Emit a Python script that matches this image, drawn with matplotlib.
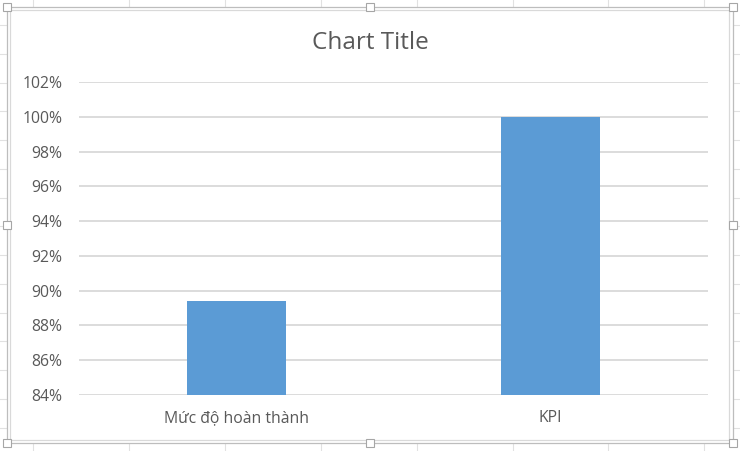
import matplotlib
matplotlib.use("Agg")
import matplotlib.pyplot as plt
from matplotlib.patches import Rectangle
from matplotlib.ticker import FuncFormatter, MultipleLocator

categories = ["Mức độ hoàn thành", "KPI"]
values = [89.4, 100.0]
y_min, y_max, y_step = 84, 102, 2
title = "Chart Title"

W, H = 740, 451
fig = plt.figure(figsize=(W / 100, H / 100), dpi=100)
fig.patch.set_facecolor("white")

# background overlay (spreadsheet grid, chart frame, handles)
bg = fig.add_axes([0, 0, 1, 1], zorder=0)
bg.set_xlim(0, W)
bg.set_ylim(H, 0)
bg.axis("off")
grid_c = "#E1E1E1"
x = 33.0
while x < W:
    bg.plot([x, x], [0, H], color=grid_c, lw=0.8, zorder=0)
    x += 95.9
y = 25.0
while y < H:
    bg.plot([0, W], [y, y], color=grid_c, lw=0.8, zorder=0)
    y += 28.75
bg.add_patch(Rectangle((7, 7), 726, 436, facecolor="white", edgecolor="#BDBDBD", lw=0.9, zorder=2))
bg.add_patch(Rectangle((10, 10), 719, 430, facecolor="white", edgecolor="#D9D9D9", lw=0.9, zorder=3))
hs = 8
for hx, hy in [(7, 7), (370, 7), (733, 7), (7, 225), (733, 225), (7, 443), (370, 443), (733, 443)]:
    bg.add_patch(Rectangle((hx - hs / 2, hy - hs / 2), hs, hs, facecolor="white",
                           edgecolor="#A6A6A6", lw=0.8, zorder=5))

# main chart
left, right, top, bottom = 79, 708, 82, 395
ax = fig.add_axes([left / W, (H - bottom) / H, (right - left) / W, (bottom - top) / H], zorder=2)
ax.patch.set_alpha(0)
pos = list(range(len(categories)))
ax.bar(pos, values, width=0.315, color="#5B9BD5", zorder=3)
ax.set_xlim(-0.5, len(categories) - 0.5)
ax.set_ylim(y_min, y_max)
ax.yaxis.set_major_locator(MultipleLocator(y_step))
ax.yaxis.set_major_formatter(FuncFormatter(lambda v, p: f"{v:.0f}%"))
ax.set_xticks(pos)
ax.set_xticklabels(categories)
ax.grid(axis="y", color="#D9D9D9", lw=1.3, zorder=0)
ax.set_axisbelow(True)
for s in ax.spines.values():
    s.set_visible(False)
ax.tick_params(axis="both", length=0, colors="#595959", labelsize=11.3)
ax.tick_params(axis="y", pad=12)
ax.tick_params(axis="x", pad=11)
for lab in ax.get_xticklabels() + ax.get_yticklabels():
    lab.set_family(["Open Sans", "DejaVu Sans"])
fig.text(370 / W, 1 - 43 / H, title, ha="center", va="center", fontsize=17.5,
         color="#595959", family=["Open Sans", "DejaVu Sans"])

fig.savefig("out.png", dpi=100)
